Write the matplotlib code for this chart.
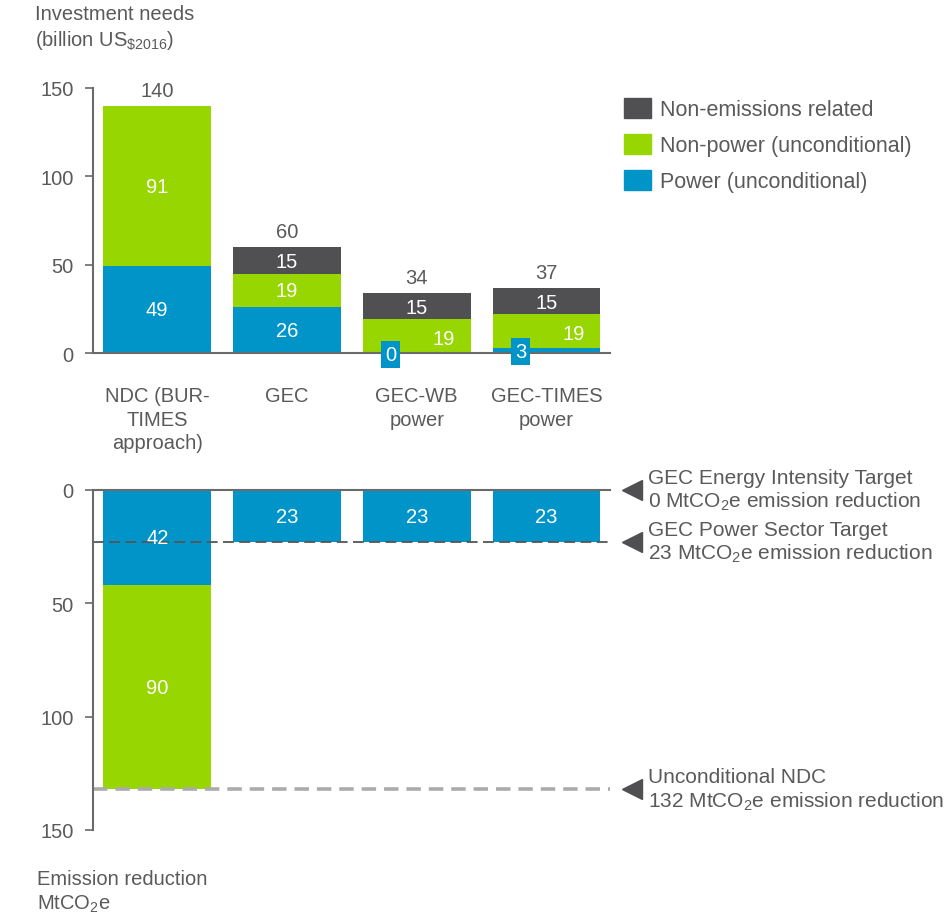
"""
Investment needs and emission reduction by scenario: stacked bars above,
reduction bars hanging from a zero line below, with target reference lines.
"""

import matplotlib
matplotlib.use("Agg")
import matplotlib.pyplot as plt
from matplotlib.patches import Patch

plt.rcParams["font.family"] = ["Liberation Sans", "DejaVu Sans"]
plt.rcParams["mathtext.fontset"] = "custom"
plt.rcParams["mathtext.rm"] = "Liberation Sans"
plt.rcParams["mathtext.it"] = "Liberation Sans"
plt.rcParams["mathtext.default"] = "regular"

# scenarios
categories = ["NDC (BUR-\nTIMES\napproach)", "GEC", "GEC-WB\npower", "GEC-TIMES\npower"]

# investment needs, billion US$2016
power_invest = [49, 26, 0, 3]
nonpower_invest = [91, 19, 19, 19]
nonemission_invest = [0, 15, 15, 15]
invest_totals = [140, 60, 34, 37]

# emission reduction, MtCO2e
power_reduction = [42, 23, 23, 23]
nonpower_reduction = [90, 0, 0, 0]

# reference targets
target_values = [0, 23, 132]
target_labels = [
    "GEC Energy Intensity Target\n0 MtCO$_2$e emission reduction",
    "GEC Power Sector Target\n23 MtCO$_2$e emission reduction",
    "Unconditional NDC\n132 MtCO$_2$e emission reduction",
]

BLUE = "#0094C9"
GREEN = "#97D600"
DARK = "#505052"
TEXT = "#5A5A5A"
AXIS = "#6A6A6A"
FS = 14.5

fig = plt.figure(figsize=(9.49, 9.2), dpi=100)
ax_top = fig.add_axes([93 / 949, 1 - 354 / 920, 517 / 949, 265 / 920])
ax_bot = fig.add_axes([93 / 949, 1 - 831 / 920, 517 / 949, 340 / 920])

x = list(range(len(categories)))
width = 0.83

# top panel: stacked investment bars
bottoms2 = power_invest
bottoms3 = [a + b for a, b in zip(power_invest, nonpower_invest)]
ax_top.bar(x, power_invest, width, color=BLUE)
ax_top.bar(x, nonpower_invest, width, bottom=bottoms2, color=GREEN)
ax_top.bar(x, nonemission_invest, width, bottom=bottoms3, color=DARK)

for i in x:
    # small power values get a boxed label to the left
    if power_invest[i] < 10:
        ax_top.text(i - 0.2, power_invest[i] / 2 - 0.6, str(power_invest[i]),
                    ha="center", va="center", color="white", fontsize=FS,
                    bbox=dict(boxstyle="square,pad=0.2", fc=BLUE, ec="none"))
        ax_top.text(i + 0.21, power_invest[i] + nonpower_invest[i] / 2 - 1.5,
                    str(nonpower_invest[i]), ha="center", va="center",
                    color="white", fontsize=FS)
    else:
        ax_top.text(i, power_invest[i] / 2, str(power_invest[i]),
                    ha="center", va="center", color="white", fontsize=FS)
        ax_top.text(i, power_invest[i] + nonpower_invest[i] / 2,
                    str(nonpower_invest[i]), ha="center", va="center",
                    color="white", fontsize=FS)
    if nonemission_invest[i] > 0:
        ax_top.text(i, bottoms3[i] + nonemission_invest[i] / 2 - 0.8,
                    str(nonemission_invest[i]), ha="center", va="center",
                    color="white", fontsize=FS)
    ax_top.annotate(str(invest_totals[i]), (i, invest_totals[i]),
                    xytext=(0, 4), textcoords="offset points",
                    ha="center", va="bottom", color=TEXT, fontsize=FS)

ax_top.set_xlim(-0.495, 3.49)
ax_top.set_ylim(0, 150)
ax_top.set_yticks([0, 50, 100, 150])
ax_top.set_xticks(x)
ax_top.set_xticklabels(categories, color=TEXT, fontsize=FS, linespacing=1.3)
ax_top.tick_params(axis="x", length=0, pad=24)
for side in ["top", "right"]:
    ax_top.spines[side].set_visible(False)

# bottom panel: reduction bars hanging from zero
ax_bot.bar(x, power_reduction, width, color=BLUE)
ax_bot.bar(x, nonpower_reduction, width, bottom=power_reduction, color=GREEN)
for i in x:
    ax_bot.text(i, power_reduction[i] / 2, str(power_reduction[i]),
                ha="center", va="center", color="white", fontsize=FS)
    if nonpower_reduction[i] > 0:
        ax_bot.text(i, power_reduction[i] + nonpower_reduction[i] / 2,
                    str(nonpower_reduction[i]), ha="center", va="center",
                    color="white", fontsize=FS)

ax_bot.axhline(target_values[1], color="#555555", lw=1.3,
               dashes=(6, 3), zorder=1)
ax_bot.axhline(target_values[2], color="#ABABAB", lw=2.6,
               dashes=(4, 2.2), zorder=1)

for val, label in zip(target_values, target_labels):
    ax_bot.plot([3.66], [val], marker="<", ms=15, color=DARK,
                clip_on=False, lw=0)
    ax_bot.text(3.785, val, label, ha="left", va="center", color=TEXT,
                fontsize=15, linespacing=1.2, clip_on=False)

ax_bot.set_xlim(-0.495, 3.49)
ax_bot.set_ylim(150, 0)
ax_bot.set_yticks([0, 50, 100, 150])
ax_bot.set_xticks([])
for side in ["bottom", "right"]:
    ax_bot.spines[side].set_visible(False)

for ax in (ax_top, ax_bot):
    for side in ["left", "top", "bottom"]:
        ax.spines[side].set_color(AXIS)
        ax.spines[side].set_linewidth(1.5)
    ax.tick_params(axis="y", colors=AXIS, labelcolor=TEXT, labelsize=FS,
                   length=5.5, width=1.2, pad=8.5)

# axis titles
fig.text(35 / 949, 1 - 5 / 920, "Investment needs\n(billion US$_{\\$2016}$)",
         ha="left", va="top", color=TEXT, fontsize=FS, linespacing=1.3)
fig.text(37 / 949, 1 - 870 / 920, "Emission reduction\nMtCO$_2$e",
         ha="left", va="top", color=TEXT, fontsize=FS, linespacing=1.3)

handles = [
    Patch(color=DARK, label="Non-emissions related"),
    Patch(color=GREEN, label="Non-power (unconditional)"),
    Patch(color=BLUE, label="Power (unconditional)"),
]
fig.legend(handles=handles, loc="upper left",
           bbox_to_anchor=(624 / 949, 1 - 99 / 920), frameon=False,
           fontsize=15.5, handlelength=1.25, handleheight=1.05,
           handletextpad=0.4, labelspacing=0.63, borderpad=0,
           borderaxespad=0, labelcolor=TEXT)

fig.savefig("out.png", dpi=100)
